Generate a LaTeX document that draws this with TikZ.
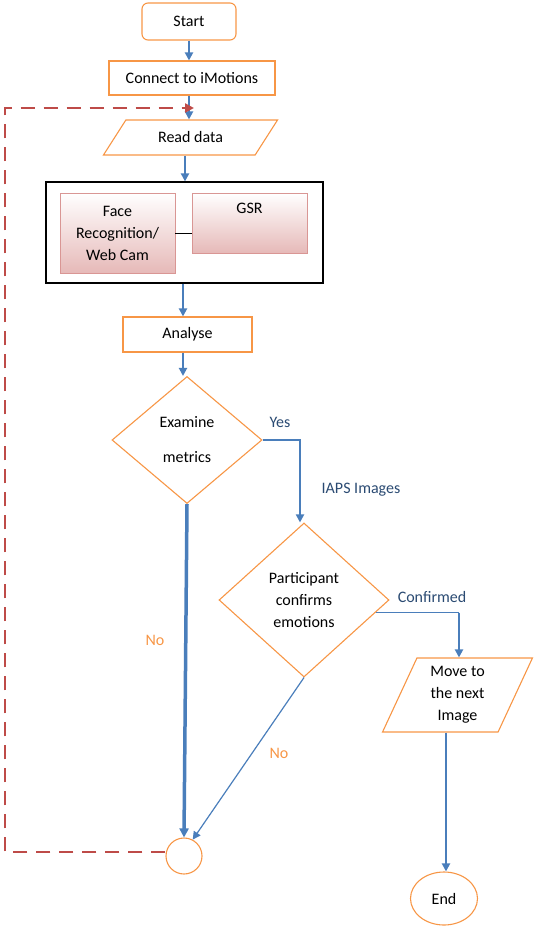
\documentclass[tikz,border=0pt]{standalone}
\usepackage{fontspec}
\setmainfont{Carlito}
\usetikzlibrary{shapes.geometric,arrows.meta,calc}
\definecolor{orng}{HTML}{F79646}
\definecolor{blu}{HTML}{4A7EBB}
\definecolor{redd}{HTML}{BE4B48}
\definecolor{pinkb}{HTML}{E6B9B8}
\definecolor{pinkd}{HTML}{D99694}
\definecolor{lbl}{HTML}{2A4A72}
\begin{document}
\begin{tikzpicture}[x=1pt,y=-1pt,
  font=\fontsize{16}{22}\selectfont,
  obox/.style={draw=orng, line width=1.1pt, rectangle, inner sep=0pt, align=center},
  para/.style={draw=orng, line width=1.1pt, trapezium, trapezium stretches=true, inner sep=0pt, align=center},
  dia/.style={draw=orng, line width=1.1pt, diamond, inner sep=0pt, align=center},
  pinkbox/.style={draw=pinkd, line width=0.8pt, top color=white, bottom color=pinkb, inner sep=0pt, align=center},
  arr/.style={draw=blu, line width=2.2pt, -{Triangle[length=8pt,width=8pt]}},
  thinarr/.style={draw=blu, line width=1.2pt, -{Triangle[length=8pt,width=8pt]}},
  loop/.style={draw=redd, line width=2.4pt, dash pattern=on 14pt off 9pt, -{Triangle[length=9pt,width=9pt]}},
  lab/.style={text=lbl, font=\fontsize{16}{19}\selectfont},
  nolab/.style={text=orng, font=\fontsize{16}{19}\selectfont}
]
\useasboundingbox (0,0) rectangle (536,929);

% nodes
\node[obox, rounded corners=6pt, minimum width=94pt, minimum height=37pt] (start) at (189,21.5) {Start};
\node[obox, minimum width=166pt, minimum height=34pt] (connect) at (192,78) {Connect to iMotions};
\node[para, trapezium left angle=45, trapezium right angle=135, minimum width=175pt, minimum height=35pt] (read) at (190.5,137.5) {Read data};
\node[draw=black, line width=1.2pt, minimum width=277pt, minimum height=101pt, inner sep=0pt] (group) at (184.5,232.5) {};
\node[pinkbox, minimum width=115pt, minimum height=80pt] (face) at (117.5,233) {Face\\Recognition/\\Web Cam};
\node[pinkbox, minimum width=115pt, minimum height=60pt] (gsr) at (249.5,223) {};
\node (gsrtxt) at ($(gsr.north)+(0,16)$) {GSR};
\node[obox, minimum width=129pt, minimum height=35pt] (analyse) at (187.5,334.5) {Analyse};
\node[dia, minimum width=150pt, minimum height=127pt] (exam) at (187,440) {Examine\\[13pt]metrics};
\node[dia, minimum width=170pt, minimum height=154pt] (part) at (304,600) {Participant\\confirms\\emotions};
\node[para, trapezium left angle=68, trapezium right angle=112, minimum width=151pt, minimum height=74pt] (move) at (457.5,695) {Move to\\the next\\Image};
\node[draw=orng, line width=1.1pt, circle, minimum size=36pt, inner sep=0pt] (merge) at (184,856) {};
\node[draw=orng, line width=1.1pt, ellipse, minimum width=67pt, minimum height=53pt, inner sep=0pt] (end) at (444,898.5) {End};

% connectors
\draw[arr] (start.south -| 189,0) -- (connect.north -| 189,0);
\draw[arr] (connect.south -| 189,0) -- (read.north -| 189,0);
\draw[arr] (read.south -| 185,0) -- (group.north -| 185,0);
\draw[arr] (group.south -| 183,0) -- (analyse.north -| 183,0);
\draw[arr] (analyse.south -| 183,0) -- (exam.north -| 183,0);
\draw[draw=black, line width=0.9pt] (face.east) -- (face.east -| gsr.west);

\draw[blu, line width=3.5pt, -{Triangle[length=9pt,width=9pt]}] (exam.south) -- (merge.north);
\coordinate (yesc) at (exam.east -| 300,0);
\draw[arr, line width=1.8pt] (exam.east) -- (yesc) -- (yesc |- part.north);
\coordinate (confc) at (part.-10 -| 459,0);
\draw[blu, line width=1.2pt] (part.-10) -- (confc);
\draw[arr] (confc) -- (confc |- move.north);
\draw[arr] (move.south -| 446,0) -- (end.north -| 446,0);
\draw[thinarr] (part.south) -- (merge.62);

\coordinate (lc1) at (5,852);
\coordinate (lc2) at (5,108);
\coordinate (lend) at (194,108);
\draw[loop] (merge.west |- lc1) -- (lc1) -- (lc2) -- (lend);

% labels
\node[lab] at (280,422) {Yes};
\node[lab] at (361,490) {IAPS Images};
\node[lab] at (432,597) {Confirmed};
\node[nolab] at (155,640) {No};
\node[nolab] at (279,753) {No};
\end{tikzpicture}
\end{document}
